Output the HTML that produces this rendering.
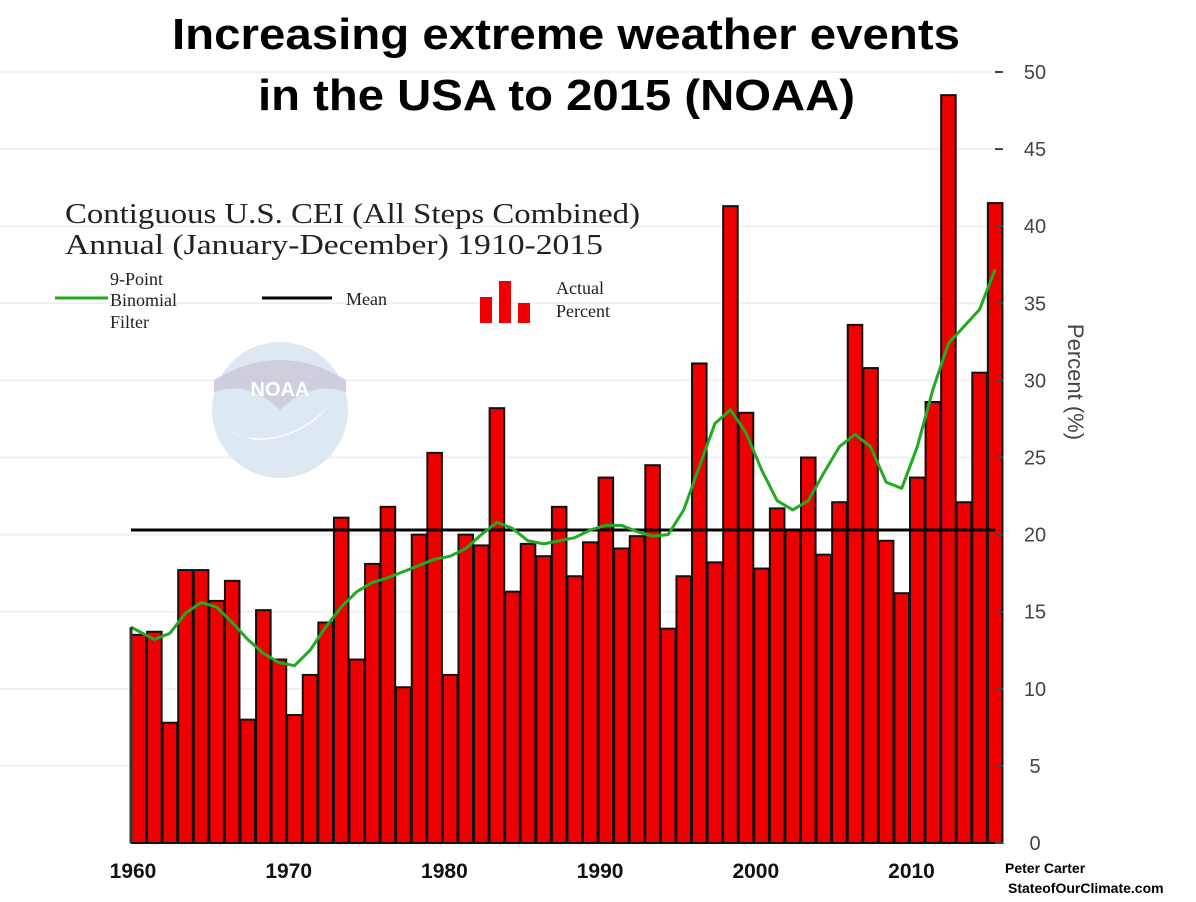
<!DOCTYPE html>
<html><head><meta charset="utf-8"><style>
body{margin:0;background:#fff;}
svg{display:block;}
</style></head><body>
<svg id="chart" width="1196" height="902" xmlns="http://www.w3.org/2000/svg" font-family="Liberation Sans, sans-serif">
<g id="grid"></g>
<g id="logo" opacity="0.9">
  <circle cx="280" cy="410" r="68" fill="#dbe6f2"/>
  <path d="M214 392 Q250 380 280 410 Q310 380 346 392 L346 380 Q280 340 214 380Z" fill="#c9c9dc"/>
  <path d="M225 430 Q280 455 330 405 Q300 440 255 440Z" fill="#fff"/>
  <text x="280" y="396" text-anchor="middle" font-size="20" font-weight="bold" fill="#fff">NOAA</text>
</g>
<g id="bars"></g>
<g id="lines"></g>
<g id="axes"></g>
<text x="172" y="49" textLength="788" lengthAdjust="spacingAndGlyphs" font-size="44" font-weight="bold">Increasing extreme weather events</text>
<text x="258" y="110" textLength="597" lengthAdjust="spacingAndGlyphs" font-size="44" font-weight="bold">in the USA to 2015 (NOAA)</text>
<g font-family="Liberation Serif, serif" fill="#222">
<text x="65" y="223" font-size="28" textLength="575" lengthAdjust="spacingAndGlyphs">Contiguous U.S. CEI (All Steps Combined)</text>
<text x="65" y="254" font-size="28" textLength="538" lengthAdjust="spacingAndGlyphs">Annual (January-December) 1910-2015</text>
</g>
<g font-family="Liberation Serif, serif" font-size="18" fill="#222">
<line x1="55" y1="298" x2="108" y2="298" stroke="#22a822" stroke-width="3"/>
<text x="110" y="285">9-Point</text><text x="110" y="306">Binomial</text><text x="110" y="328">Filter</text>
<line x1="262" y1="298" x2="332" y2="298" stroke="#000" stroke-width="3"/>
<text x="346" y="305">Mean</text>
<rect x="480" y="297" width="12" height="26" fill="#e00"/><rect x="499" y="281" width="12" height="42" fill="#e00"/><rect x="518" y="303" width="12" height="20" fill="#e00"/>
<text x="556" y="294">Actual</text><text x="556" y="317">Percent</text>
</g>
<text transform="translate(1068,382) rotate(90)" text-anchor="middle" font-size="22" fill="#444">Percent (%)</text>
<text x="1005" y="873" font-size="14" font-weight="bold">Peter Carter</text>
<text x="1008" y="893" font-size="14" font-weight="bold">StateofOurClimate.com</text>
</svg>
<script>
const years=[1960,1961,1962,1963,1964,1965,1966,1967,1968,1969,1970,1971,1972,1973,1974,1975,1976,1977,1978,1979,1980,1981,1982,1983,1984,1985,1986,1987,1988,1989,1990,1991,1992,1993,1994,1995,1996,1997,1998,1999,2000,2001,2002,2003,2004,2005,2006,2007,2008,2009,2010,2011,2012,2013,2014,2015];
const actual=[13.5,13.7,7.8,17.7,17.7,15.7,17.0,8.0,15.1,11.9,8.3,10.9,14.3,21.1,11.9,18.1,21.8,10.1,20.0,25.3,10.9,20.0,19.3,28.2,16.3,19.4,18.6,21.8,17.3,19.5,23.7,19.1,19.9,24.5,13.9,17.3,31.1,18.2,41.3,27.9,17.8,21.7,20.3,25.0,18.7,22.1,33.6,30.8,19.6,16.2,23.7,28.6,48.5,22.1,30.5,41.5];
const filter=[14.0,13.2,13.6,14.9,15.6,15.3,14.3,13.2,12.3,11.7,11.5,12.5,14.0,15.3,16.3,16.9,17.2,17.6,18.0,18.4,18.6,19.1,20.0,20.8,20.4,19.6,19.4,19.6,19.8,20.3,20.6,20.6,20.2,19.9,20.0,21.6,24.4,27.2,28.1,26.6,24.2,22.2,21.6,22.2,24.0,25.7,26.5,25.7,23.4,23.0,25.7,29.4,32.4,33.5,34.6,37.2];
const meanValue=20.3;
const yTicks=[0,5,10,15,20,25,30,35,40,45,50];
const xTickYears=[1960,1970,1980,1990,2000,2010];
const NS='http://www.w3.org/2000/svg';
const x0=131,bw=15.57,y0=843,ppu=15.42;
const xs=yr=>x0+(yr-1960)*bw;
const ys=v=>y0-v*ppu;
function mk(tag,attrs,parent){const e=document.createElementNS(NS,tag);for(const k in attrs)e.setAttribute(k,attrs[k]);parent.appendChild(e);return e;}
const grid=document.getElementById('grid'),bars=document.getElementById('bars'),lines=document.getElementById('lines'),axes=document.getElementById('axes');
yTicks.forEach(t=>{if(t===0)return;
 const g=mk('line',{x1:0,x2:1000,y1:ys(t),y2:ys(t),stroke:'#f0f0f0','stroke-width':2},grid);
 
 
});
years.forEach((yr,i)=>{
 const r=mk('rect',{x:xs(yr)+0.5,y:ys(actual[i]),width:bw-1,height:actual[i]*ppu,fill:'#ee0000',stroke:'#111','stroke-width':2},bars);
 
 
});
const ml=mk('line',{x1:x0,x2:xs(2015)+bw/2,y1:ys(meanValue),y2:ys(meanValue),stroke:'#000','stroke-width':3},lines);


const pts=years.map((yr,i)=>(i===0?xs(yr):xs(yr)+bw/2)+','+ys(filter[i])).join(' ');
const fl=mk('polyline',{points:pts,fill:'none',stroke:'#22aa22','stroke-width':3,'stroke-linejoin':'round'},lines);


const la=mk('line',{x1:x0,x2:x0,y1:ys(14),y2:y0,stroke:'#333','stroke-width':3},axes);


yTicks.forEach(t=>{
 const tk=mk('line',{x1:995,x2:1003,y1:ys(t),y2:ys(t),stroke:'#444','stroke-width':2},axes);
 
 
 const tx=mk('text',{x:1035,y:ys(t)+7,'text-anchor':'middle','font-size':20,fill:'#444'},axes);
 tx.textContent=t;
 
 
});
xTickYears.forEach(yr=>{
 const tx=mk('text',{x:xs(yr)+2,y:878,'text-anchor':'middle','font-size':21,'font-weight':'bold',fill:'#111'},axes);
 tx.textContent=yr;
 
 
});
</script>
</body></html>
